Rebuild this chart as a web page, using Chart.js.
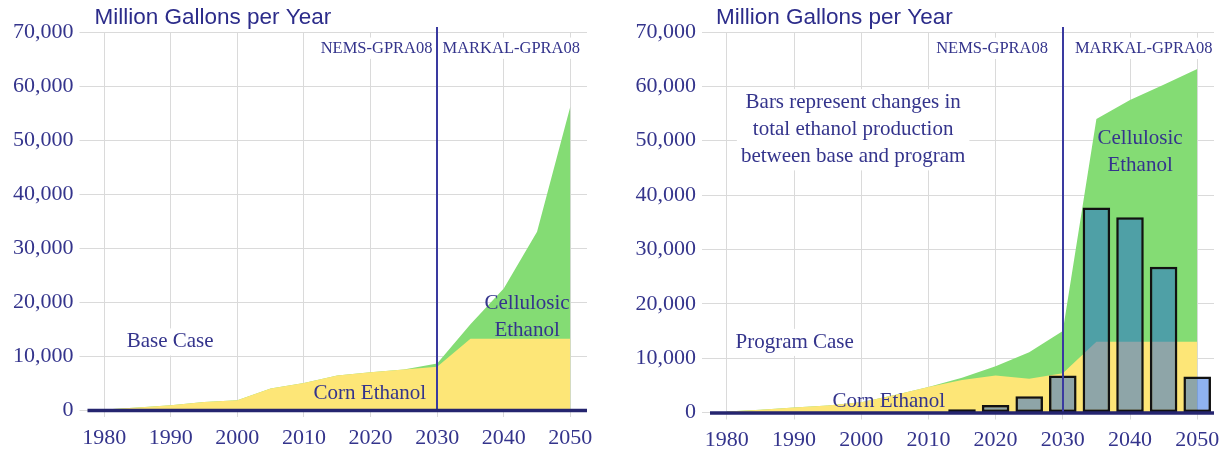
<!DOCTYPE html>
<html>
<head>
<meta charset="utf-8">
<title>Ethanol production, base and program case</title>
<script src="https://cdn.jsdelivr.net/npm/chart.js@4.4.1/dist/chart.umd.min.js"></script>
<style>
    body { margin: 0; background: #fff; }
    .wrap { display: flex; width: 1222px; height: 453px; }
    .box { position: relative; width: 611px; height: 453px; }
</style>
</head>
<body>
<div class="wrap">
    <div class="box"><canvas id="baseChart"></canvas></div>
    <div class="box"><canvas id="programChart"></canvas></div>
</div>
<script>
// million gallons per year, every 5 years
const years = [1980, 1985, 1990, 1995, 2000, 2005, 2010, 2015, 2020, 2025, 2030, 2035, 2040, 2045, 2050];
const yearTicks = [1980, 1990, 2000, 2010, 2020, 2030, 2040, 2050];
const valueTicks = [0, 10000, 20000, 30000, 40000, 50000, 60000, 70000];

const baseCorn = [100, 450, 900, 1500, 1800, 4000, 5000, 6400, 7000, 7500, 8000, 13200, 13200, 13200, 13200];
const baseCellulosic = [0, 0, 0, 0, 0, 0, 0, 0, 0, 0, 600, 2700, 9300, 19800, 43000];

const programCorn = [200, 500, 900, 1300, 1900, 3200, 4700, 6000, 6800, 6200, 7200, 13000, 13000, 13000, 13000];
const programCellulosic = [0, 0, 0, 0, 0, 0, 0, 400, 1700, 4900, 7800, 41000, 44500, 47300, 50200];

// change in total ethanol production, program minus base
const changeYears = [2015, 2020, 2025, 2030, 2035, 2040, 2045, 2050];
const changeValues = [600, 1400, 3000, 6800, 37700, 35900, 26800, 6600];

const splitYear = 2030;

const navy = '#34348c';
const serif = 'Liberation Serif';

const overlay = {
    id: 'overlay',
    beforeDatasetsDraw(chart, args, opts) {
        // white boxes behind the notes that sit on the grid
        const ctx = chart.ctx;
        const xs = chart.scales.x, ys = chart.scales.y;
        ctx.save();
        ctx.fillStyle = '#fff';
        opts.notes.filter(n => n.box).forEach(n => {
            ctx.font = n.size + 'px "' + serif + '"';
            const w = Math.max(...n.lines.map(t => ctx.measureText(t).width));
            const cx = xs.getPixelForValue(n.year);
            const cy = ys.getPixelForValue(n.value);
            let left = cx - w / 2;
            if (n.align === 'right') left = cx - w;
            if (n.align === 'left') left = cx;
            const lh = n.size * 1.29;
            ctx.fillRect(left - 4, cy - lh / 2, w + 8, lh * n.lines.length);
        });
        ctx.restore();
    },
    afterDatasetsDraw(chart, args, opts) {
        const ctx = chart.ctx;
        const area = chart.chartArea;
        const xs = chart.scales.x, ys = chart.scales.y;
        ctx.save();

        // model split line
        const sx = Math.round(xs.getPixelForValue(splitYear));
        ctx.strokeStyle = '#3a3aa0';
        ctx.lineWidth = 2;
        ctx.beginPath();
        ctx.moveTo(sx, area.top - 5);
        ctx.lineTo(sx, area.bottom);
        ctx.stroke();

        // zero axis
        const y0 = ys.getPixelForValue(0);
        ctx.strokeStyle = '#25256f';
        ctx.lineWidth = 3.5;
        ctx.beginPath();
        ctx.moveTo(area.left, y0 + 0.5);
        ctx.lineTo(area.right, y0 + 0.5);
        ctx.stroke();

        // notes
        ctx.fillStyle = navy;
        ctx.textBaseline = 'middle';
        opts.notes.forEach(n => {
            ctx.font = n.size + 'px "' + serif + '"';
            ctx.textAlign = n.align || 'center';
            const cx = xs.getPixelForValue(n.year);
            const cy = ys.getPixelForValue(n.value);
            const lh = n.size * 1.29;
            n.lines.forEach((t, i) => ctx.fillText(t, cx, cy + i * lh));
        });

        // unit title
        ctx.font = '22.5px "Liberation Sans"';
        ctx.fillStyle = '#2c2c8a';
        ctx.textAlign = 'left';
        ctx.fillText('Million Gallons per Year', area.left + opts.titleOffset, 18);
        ctx.restore();
    }
};

function areaSet(values, color, order) {
    return {
        type: 'line',
        data: years.map((yr, i) => ({ x: yr, y: values[i] })),
        backgroundColor: color,
        borderColor: 'rgba(0,0,0,0)',
        borderWidth: 0,
        pointRadius: 0,
        tension: 0,
        fill: 'origin',
        order: order
    };
}

function buildChart(id, corn, cellulosic, extra) {
    const total = corn.map((v, i) => v + cellulosic[i]);
    const datasets = [
        areaSet(total, '#84dc74', 3),
        areaSet(corn, '#fde677', 2)
    ];
    if (extra.bars) {
        datasets.push({
            type: 'bar',
            data: changeYears.map((yr, i) => ({ x: yr, y: changeValues[i] })),
            backgroundColor: 'rgba(20,95,222,0.48)',
            borderColor: '#121212',
            borderWidth: 2.5,
            borderSkipped: false,
            barPercentage: 1,
            categoryPercentage: 0.82,
            order: 1
        });
    }

    return new Chart(document.getElementById(id), {
        type: 'line',
        data: { datasets: datasets },
        plugins: [overlay],
        options: {
            responsive: true,
            maintainAspectRatio: false,
            animation: false,
            layout: { padding: { top: 32, right: extra.padRight, bottom: 0, left: 0 } },
            plugins: {
                legend: { display: false },
                tooltip: { enabled: false },
                overlay: { notes: extra.notes, titleOffset: extra.titleOffset }
            },
            scales: {
                x: {
                    type: 'linear',
                    min: 1977.5,
                    max: 2052.5,
                    offset: false,
                    afterBuildTicks: s => { s.ticks = yearTicks.map(v => ({ value: v })); },
                    afterFit: s => {
                        // plot edges come from the layout padding only
                        s.height = extra.xHeight;
                        s.paddingLeft = 0;
                        s.paddingRight = 0;
                    },
                    ticks: {
                        color: navy,
                        font: { family: serif, size: 22 },
                        padding: 8,
                        maxRotation: 0,
                        callback: v => String(v)
                    },
                    grid: { color: '#dadada', lineWidth: 1, tickLength: 7, offset: false },
                    border: { display: false }
                },
                y: {
                    min: 0,
                    max: 70000,
                    afterBuildTicks: s => { s.ticks = valueTicks.map(v => ({ value: v })); },
                    afterFit: s => {
                        s.width = extra.yWidth;
                        s.paddingTop = 0;
                        s.paddingBottom = 0;
                    },
                    ticks: {
                        color: navy,
                        font: { family: serif, size: 22 },
                        padding: 6,
                        callback: v => v.toLocaleString('en-US')
                    },
                    grid: { color: '#dadada', lineWidth: 1, tickLength: 8 },
                    border: { display: false }
                }
            }
        }
    });
}

buildChart('baseChart', baseCorn, baseCellulosic, {
    bars: false,
    padRight: 24,
    yWidth: 87.5,
    xHeight: 43,
    titleOffset: 7,
    notes: [
        { lines: ['NEMS-GPRA08'], year: 2029.3, value: 67000, align: 'right', size: 16.5, box: true },
        { lines: ['MARKAL-GPRA08'], year: 2030.8, value: 67000, align: 'left', size: 16.5, box: true },
        { lines: ['Base Case'], year: 1989.9, value: 12600, size: 21, box: true },
        { lines: ['Corn Ethanol'], year: 2019.9, value: 3000, size: 21 },
        { lines: ['Cellulosic', 'Ethanol'], year: 2043.5, value: 19800, size: 21 }
    ]
});

buildChart('programChart', programCorn, programCellulosic, {
    bars: true,
    padRight: 8,
    yWidth: 99,
    xHeight: 40.5,
    titleOffset: 6,
    notes: [
        { lines: ['NEMS-GPRA08'], year: 2027.8, value: 67000, align: 'right', size: 16.5, box: true },
        { lines: ['MARKAL-GPRA08'], year: 2031.8, value: 67000, align: 'left', size: 16.5, box: true },
        { lines: ['Bars represent changes in', 'total ethanol production', 'between base and program'],
          year: 1998.8, value: 57000, size: 21, box: true },
        { lines: ['Program Case'], year: 1990.1, value: 12900, size: 21, box: true },
        { lines: ['Corn Ethanol'], year: 2004.1, value: 2000, size: 21 },
        { lines: ['Cellulosic', 'Ethanol'], year: 2041.5, value: 50400, size: 21 }
    ]
});
</script>
</body>
</html>
